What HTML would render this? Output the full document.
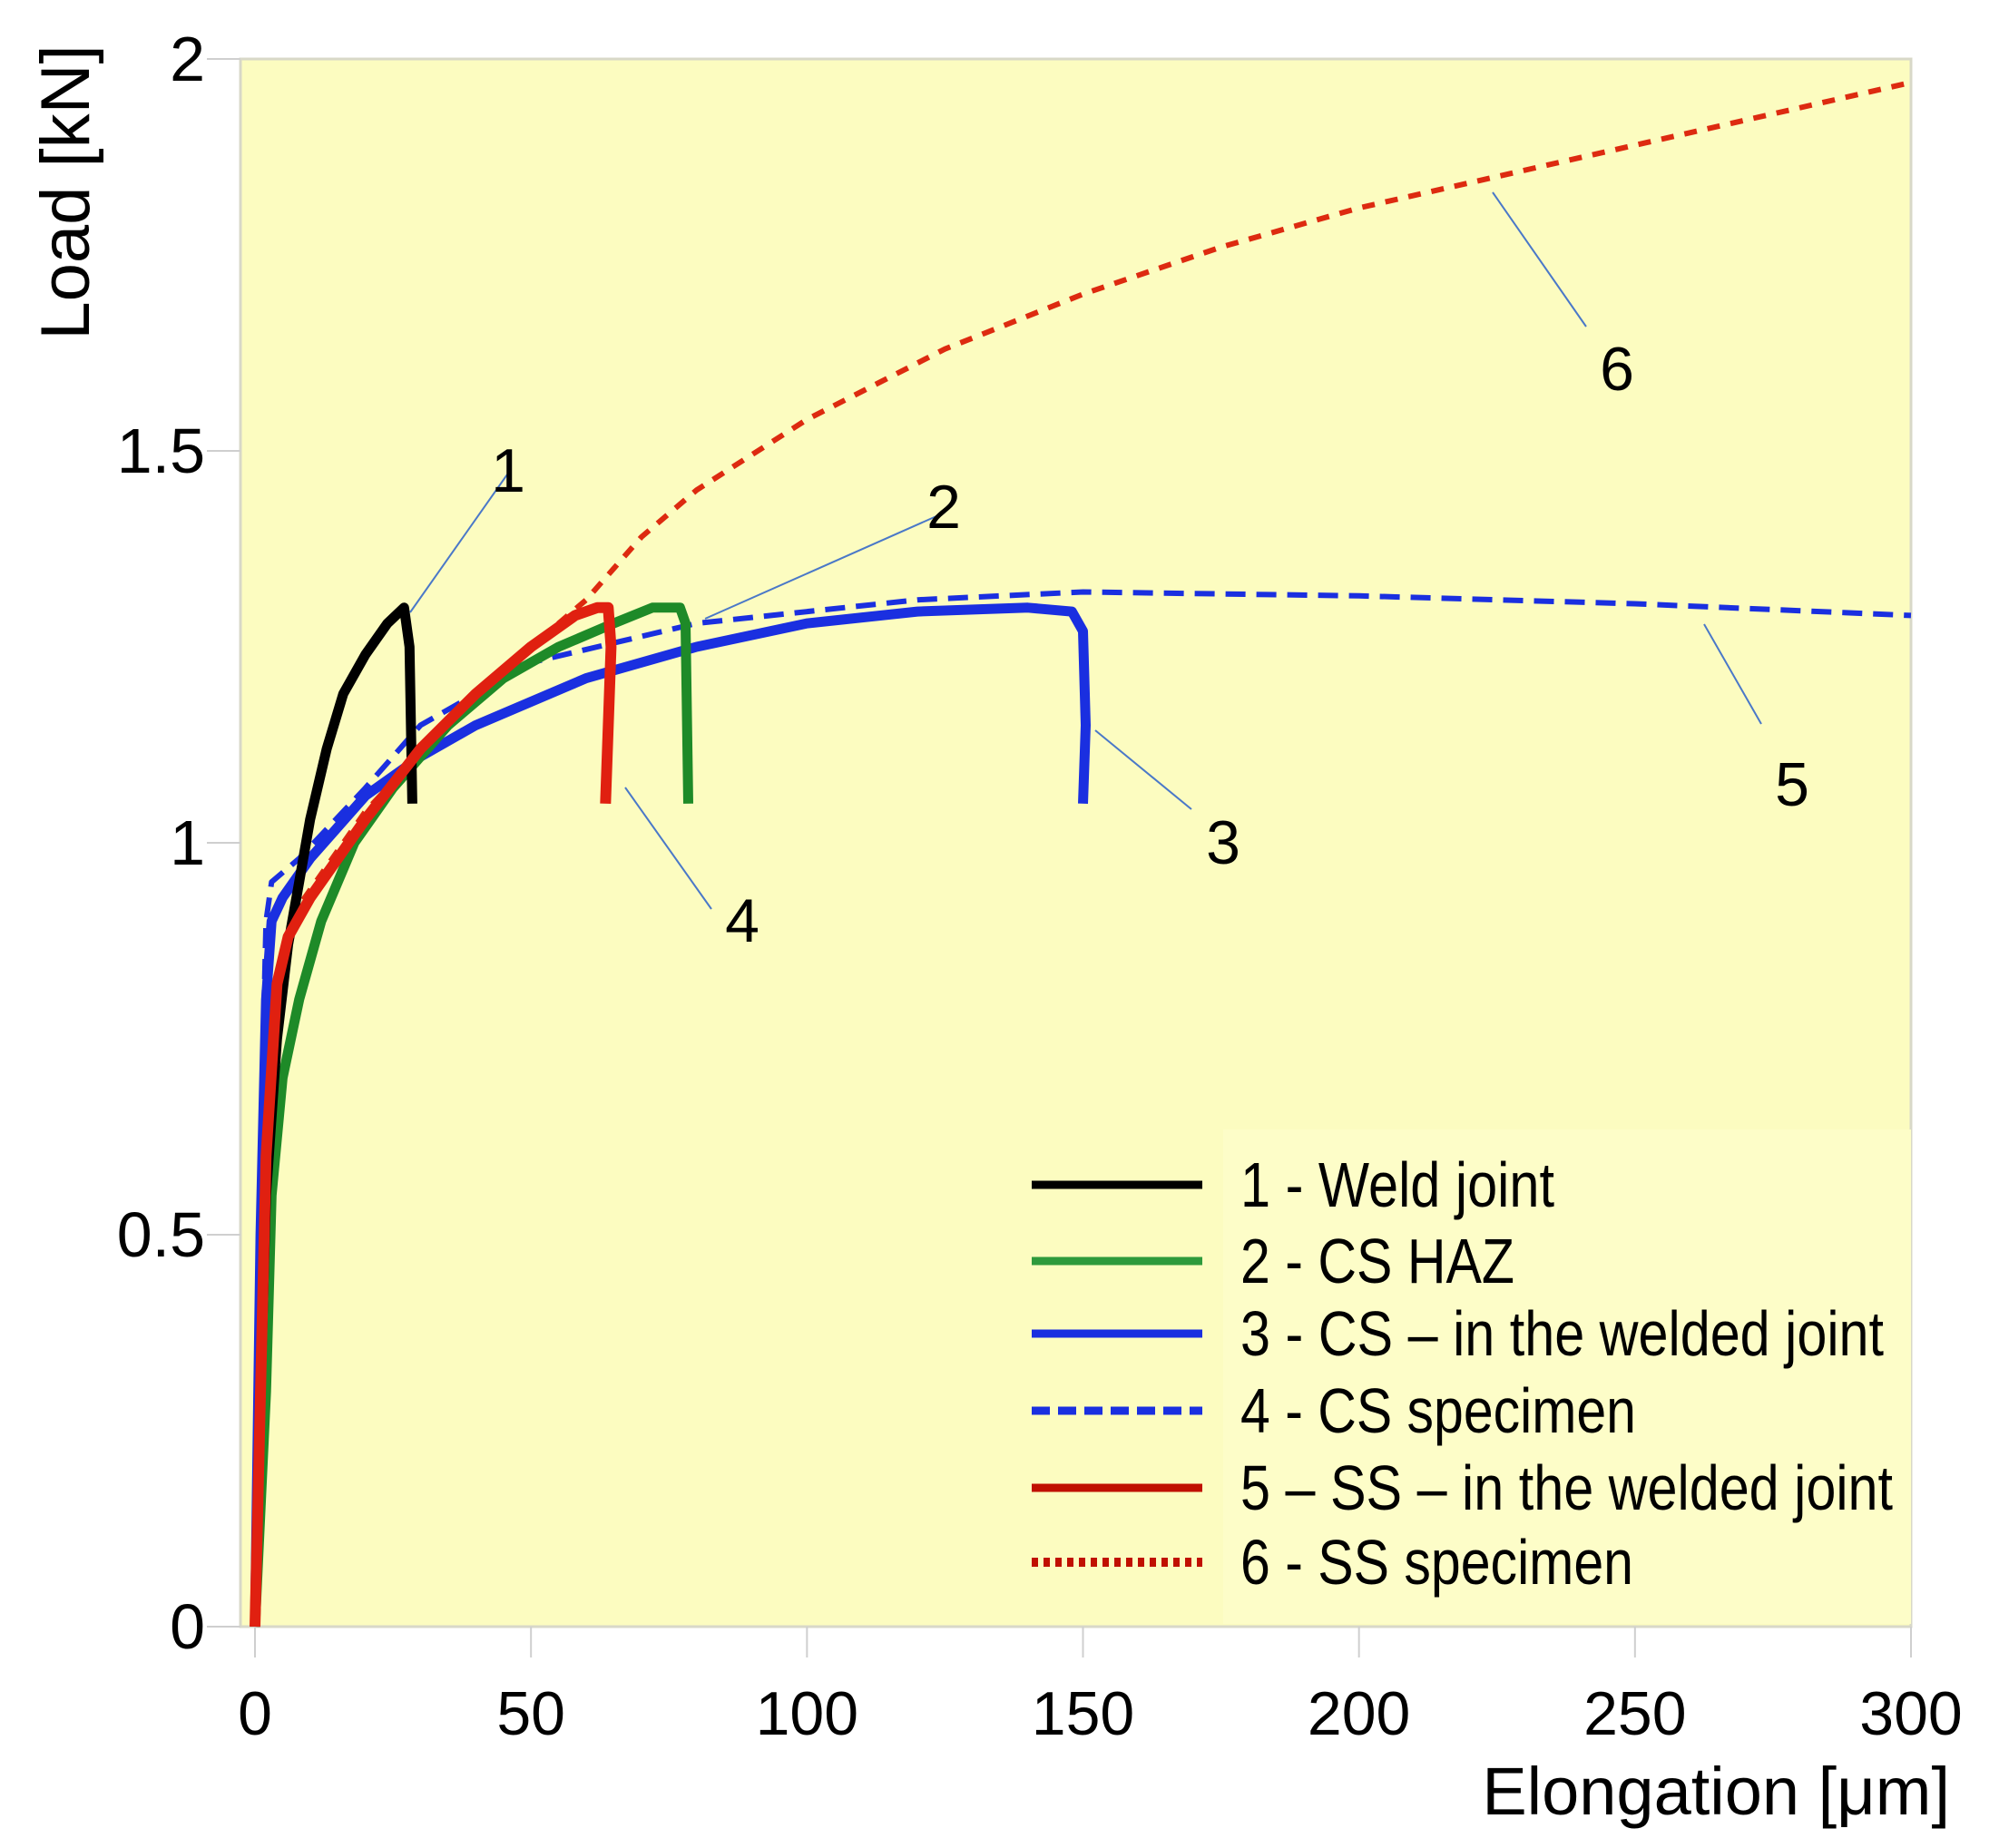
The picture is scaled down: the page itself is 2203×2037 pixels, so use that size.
<!DOCTYPE html>
<html><head><meta charset="utf-8"><style>
html,body{margin:0;padding:0;background:#fff;}
svg{display:block;font-family:"Liberation Sans",sans-serif;}
</style></head><body>
<svg id="chart" width="2203" height="2037" viewBox="0 0 2203 2037">
<rect x="265" y="65" width="1841" height="1728" fill="#fcfcc0" stroke="#d8d8c8" stroke-width="3"/>
<g id="grid"></g>
<g id="series"></g>
<g id="annot"></g>
<g id="legend"></g>
<text x="2149" y="2000" font-size="74" text-anchor="end" fill="#000">Elongation [μm]</text>
<text transform="translate(98,212) rotate(-90)" font-size="76" text-anchor="middle" fill="#000">Load [kN]</text>
</svg>
<script>
const xTicks=[0,50,100,150,200,250,300];
const yTicks=[0,0.5,1,1.5,2];
const yTickLabels=["0","0.5","1","1.5","2"];
const s1x=[0,1,2,4,6,8,10,13,16,20,24,27,28,28.5];
const s1y=[0,0.3,0.55,0.75,0.87,0.95,1.03,1.12,1.19,1.24,1.28,1.3,1.25,1.05];
const s2x=[0,2,3,5,8,12,18,25,35,45,55,65,72,77,78,78.5];
const s2y=[0,0.3,0.55,0.7,0.8,0.9,1.0,1.07,1.15,1.21,1.25,1.28,1.3,1.3,1.28,1.05];
const s3x=[0,1,2,3,5,10,20,30,40,60,80,100,120,140,148,150,150.5,150];
const s3y=[0,0.5,0.8,0.9,0.93,0.98,1.06,1.11,1.15,1.21,1.25,1.28,1.295,1.3,1.295,1.27,1.15,1.05];
const s4x=[0,1,2,3,8,20,30,50,80,120,150,200,250,300];
const s4y=[0,0.6,0.9,0.95,0.98,1.07,1.15,1.23,1.28,1.31,1.32,1.315,1.305,1.29];
const s5x=[0,1,2,4,6,10,20,30,40,50,58,62,64,64.5,63.5];
const s5y=[0,0.3,0.6,0.82,0.88,0.93,1.03,1.12,1.19,1.25,1.29,1.3,1.3,1.25,1.05];
const s6x=[0,2,4,8,20,40,55,60,65,70,80,100,125,150,175,200,225,250,275,300];
const s6y=[0,0.5,0.8,0.92,1.04,1.19,1.28,1.31,1.35,1.39,1.45,1.54,1.63,1.70,1.76,1.81,1.85,1.89,1.93,1.97];
const legendLabels=["1 - Weld joint","2 - CS HAZ","3 - CS – in the welded joint","4 - CS specimen","5 – SS – in the welded joint","6 - SS specimen"];

const NS="http://www.w3.org/2000/svg";
const X=v=>281+v*(2106-281)/300;
const Y=v=>1793-v*(1793-65)/2;
function mk(tag,attrs,parent){const e=document.createElementNS(NS,tag);for(const k in attrs)e.setAttribute(k,attrs[k]);parent.appendChild(e);return e;}
const grid=document.getElementById('grid');
xTicks.forEach(t=>{
  const l=mk('line',{x1:X(t),x2:X(t),y1:1793,y2:1827,stroke:'#cfcfcf','stroke-width':2},grid);
  
  
  const tx=mk('text',{x:X(t),y:1912,'font-size':68,'text-anchor':'middle',fill:'#000'},grid);
  tx.textContent=String(t);
  
  
});
yTicks.forEach((t,i)=>{
  const l=mk('line',{x1:228,x2:265,y1:Y(t),y2:Y(t),stroke:'#cfcfcf','stroke-width':2},grid);
  
  
  const tx=mk('text',{x:226,y:Y(t)+24,'font-size':70,'text-anchor':'end',fill:'#000'},grid);
  tx.textContent=yTickLabels[i];
  
  
});
const series=[
 {x:s4x,y:s4y,c:'#1a2fe0',w:6,d:'22 12',n:'series-4-cs-specimen'},
 {x:s6x,y:s6y,c:'#dd2a10',w:6,d:'14 12',n:'series-6-ss-specimen'},
 {x:s3x,y:s3y,c:'#1a2fe0',w:11,d:'',n:'series-3-cs-welded-joint'},
 {x:s2x,y:s2y,c:'#1e8a28',w:11,d:'',n:'series-2-cs-haz'},
 {x:s1x,y:s1y,c:'#000',w:11,d:'',n:'series-1-weld-joint'},
 {x:s5x,y:s5y,c:'#e02010',w:12,d:'',n:'series-5-ss-welded-joint'}
];
const sg=document.getElementById('series');
series.forEach(s=>{
  const p=s.x.map((v,i)=>X(v).toFixed(1)+','+Y(s.y[i]).toFixed(1)).join(' ');
  const el=mk('polyline',{points:p,fill:'none',stroke:s.c,'stroke-width':s.w,'stroke-linejoin':'round'},sg);
  if(s.d)el.setAttribute('stroke-dasharray',s.d);
  
  
});
const ann=[["1",559,523,452,675,560,542],["2",1041,565,777,682,1040,582],["3",1313,892,1207,805,1348,952],["4",784,1002,689,868,818,1038],["5",1941,798,1878,688,1975,888],["6",1748,360,1645,212,1782,430]];
const ag=document.getElementById('annot');
ann.forEach(a=>{
  const l=mk('line',{x1:a[1],y1:a[2],x2:a[3],y2:a[4],stroke:'#4a78c8','stroke-width':2},ag);
  
  
  const t=mk('text',{x:a[5],y:a[6],'font-size':68,'text-anchor':'middle',fill:'#000'},ag);
  t.textContent=a[0];
  
  
});
const lg=document.getElementById('legend');
const box=mk('rect',{x:1348,y:1245,width:758,height:545,fill:'#fdfdc8'},lg);


const rows=[1306,1390,1470,1555,1640,1722];
const widths=[346,302,709,436,719,433];
const styles=[['#000',''],['#2e9a3c',''],['#1a2fe0',''],['#1a2fe0','20 9'],['#c01000',''],['#c01000','7 6']];
legendLabels.forEach((lab,i)=>{
  const l=mk('line',{x1:1137,x2:1325,y1:rows[i],y2:rows[i],stroke:styles[i][0],'stroke-width':i==5?10:9},lg);
  if(styles[i][1])l.setAttribute('stroke-dasharray',styles[i][1]);
  
  
  const t=mk('text',{x:1367,y:rows[i]+24,'font-size':70,textLength:widths[i],lengthAdjust:'spacingAndGlyphs',fill:'#000'},lg);
  t.textContent=lab;
  
  
});
</script>
</body></html>
